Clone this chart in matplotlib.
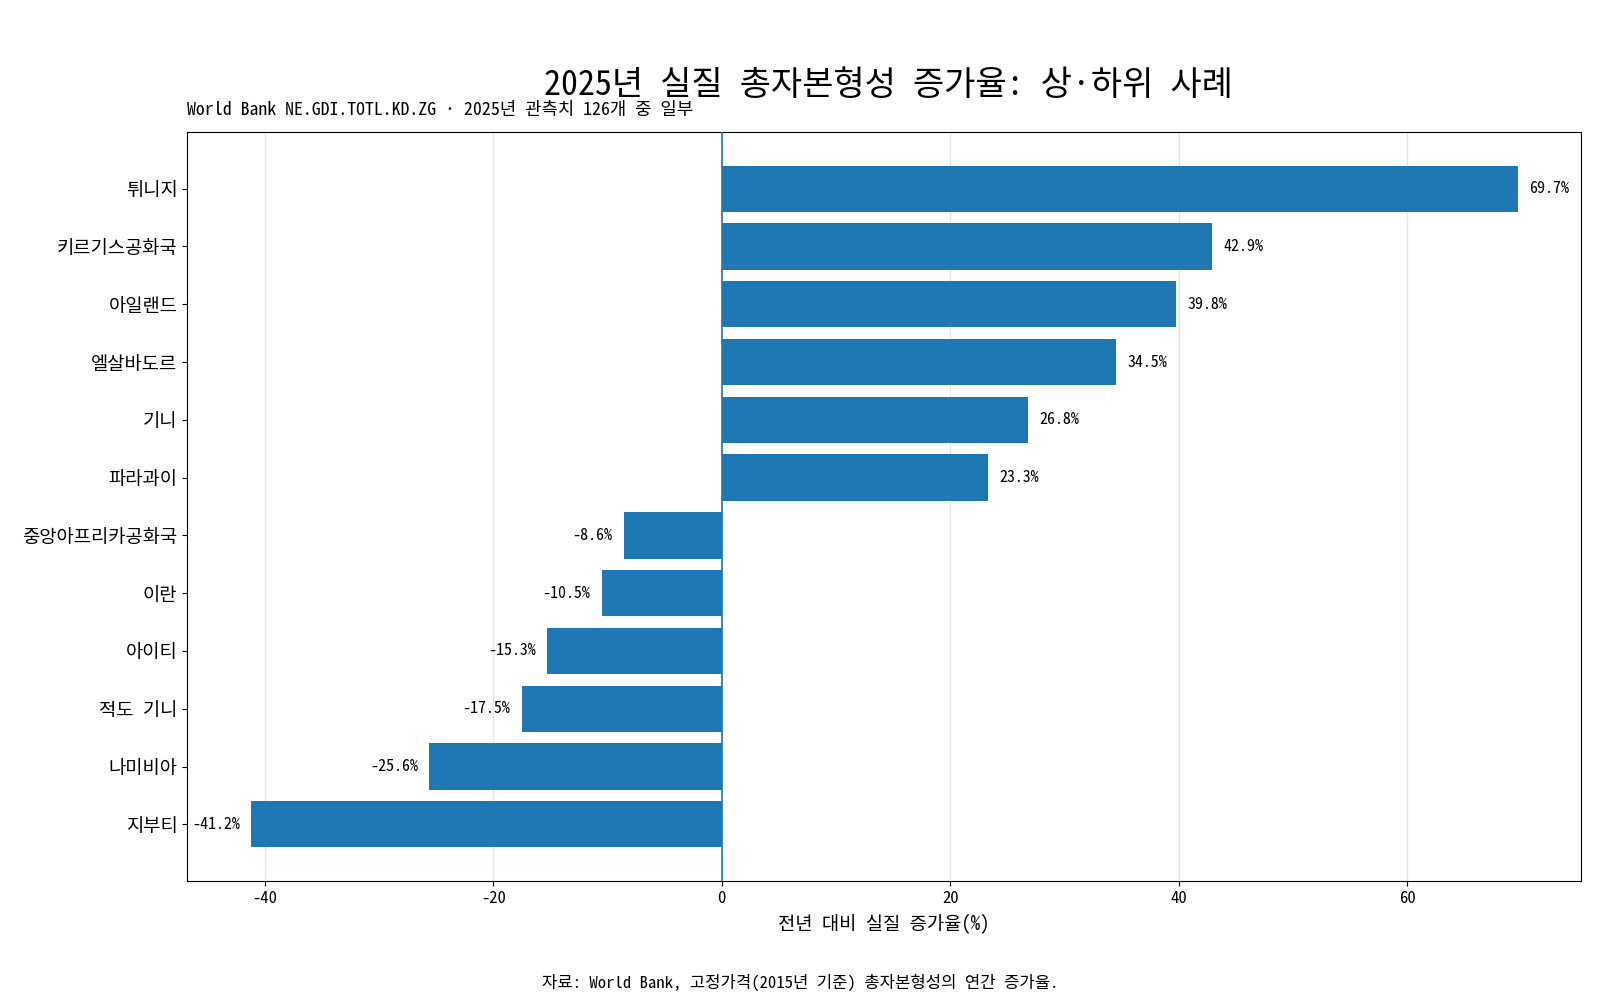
import matplotlib
matplotlib.use("Agg")
import matplotlib.pyplot as plt

plt.rcParams['font.family'] = ['Noto Sans Mono CJK KR', 'Noto Sans CJK KR', 'DejaVu Sans']
plt.rcParams['axes.unicode_minus'] = False

countries = ["튀니지", "키르기스공화국", "아일랜드", "엘살바도르", "기니", "파라과이",
             "중앙아프리카공화국", "이란", "아이티", "적도 기니", "나미비아", "지부티"]
growth = [69.7, 42.9, 39.8, 34.5, 26.8, 23.3, -8.6, -10.5, -15.3, -17.5, -25.6, -41.2]
xticks = [-40, -20, 0, 20, 40, 60]

bar_color = "#1f77b4"

fig = plt.figure(figsize=(16, 10), dpi=100)
ax = fig.add_axes([0.117, 0.119, 0.871, 0.749])

ypos = list(range(len(countries)))
ax.barh(ypos, growth, height=0.8, color=bar_color, zorder=2)
ax.axvline(0, color=bar_color, linewidth=1.2, zorder=3)

for y, v in zip(ypos, growth):
    if v >= 0:
        ax.text(v + 1.0, y, f"{v:.1f}%", va='center', ha='left', fontsize=11.5)
    else:
        ax.text(v - 1.0, y, f"{v:.1f}%", va='center', ha='right', fontsize=11.5)

ax.set_yticks(ypos)
ax.set_yticklabels(countries, fontsize=13.5)
ax.set_ylim(len(countries) - 1 + 0.98, -0.98)
ax.set_xlim(-46.8, 75.2)
ax.set_xticks(xticks)
ax.tick_params(axis='x', labelsize=12)
ax.grid(axis='x', color='#e6e6e6', linewidth=1, zorder=0)
ax.set_axisbelow(True)
ax.set_xlabel("전년 대비 실질 증가율(%)", fontsize=13.5, labelpad=6)

ax.set_title("World Bank NE.GDI.TOTL.KD.ZG · 2025년 관측치 126개 중 일부",
             loc='left', fontsize=12.8, pad=12)
fig.text(0.555, 0.915, "2025년 실질 총자본형성 증가율: 상·하위 사례",
         ha='center', va='center', fontsize=24.5)
fig.text(0.5, 0.018, "자료: World Bank, 고정가격(2015년 기준) 총자본형성의 연간 증가율.",
         ha='center', va='center', fontsize=12)

fig.savefig("out.png", dpi=100)
